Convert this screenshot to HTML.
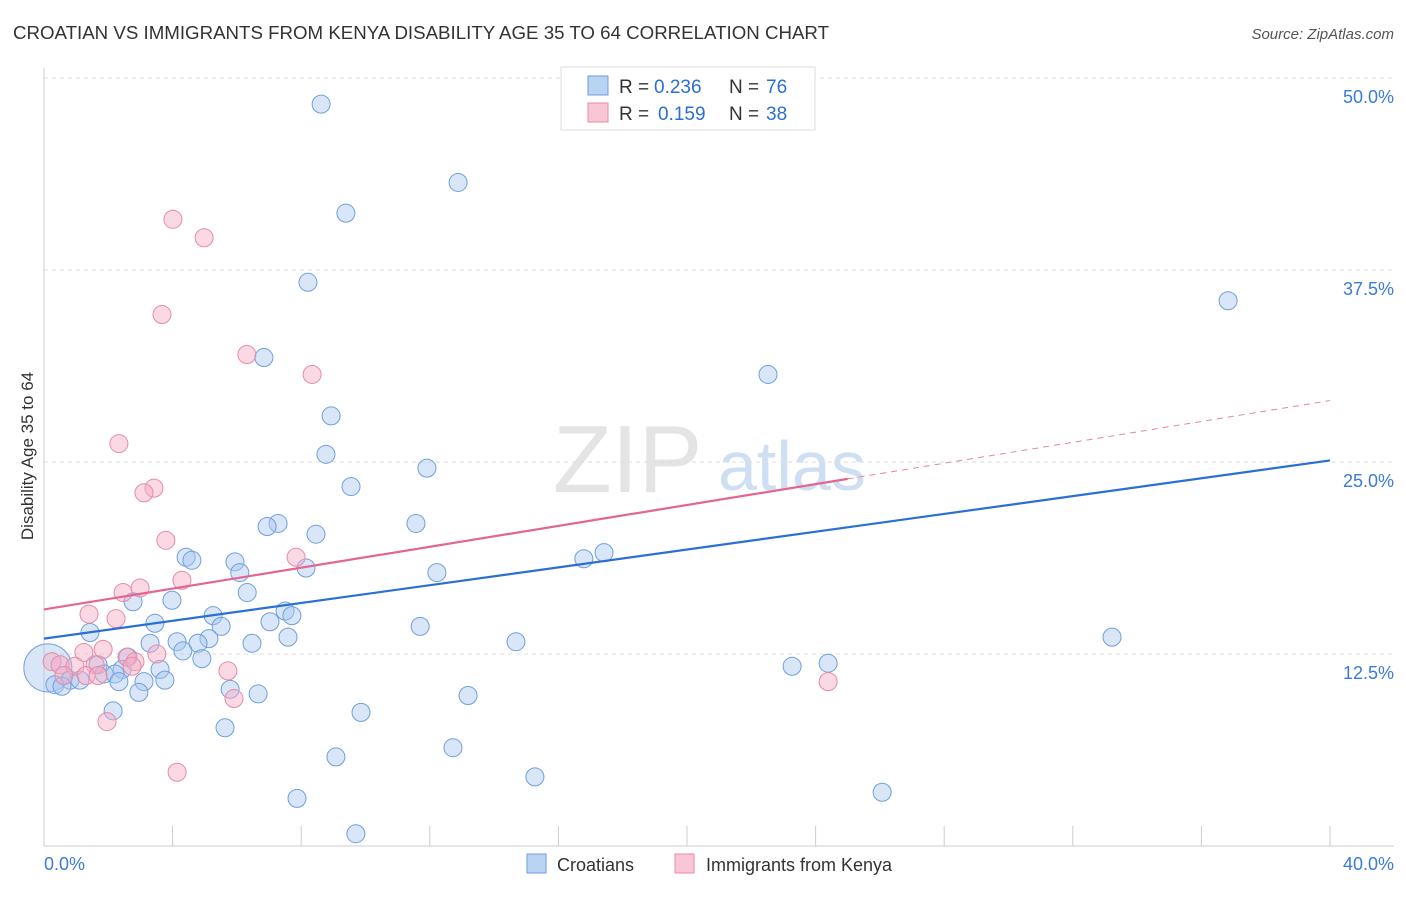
<!DOCTYPE html>
<html><head><meta charset="utf-8">
<style>
body{margin:0;background:#fff;font-family:"Liberation Sans",sans-serif;}
svg text{font-family:"Liberation Sans",sans-serif;}
</style></head>
<body>
<svg id="chart" width="1406" height="892" viewBox="0 0 1406 892" xmlns="http://www.w3.org/2000/svg">
<text x="13" y="39" font-size="18.7" fill="#333" textLength="816">CROATIAN VS IMMIGRANTS FROM KENYA DISABILITY AGE 35 TO 64 CORRELATION CHART</text>
<text x="1394" y="39" font-size="15" fill="#555" text-anchor="end" font-style="italic">Source: ZipAtlas.com</text>
<text transform="translate(33,456) rotate(-90)" font-size="17" fill="#333" text-anchor="middle">Disability Age 35 to 64</text>
<g>
<text x="553" y="492" font-size="96" fill="#e4e4e4" font-family="Liberation Serif,serif">ZIP</text>
<text x="718" y="490" font-size="70" fill="#cfdff3">atlas</text>
</g>
<g id="grid"></g>
<g id="axes"></g>
<g id="trends"></g>
<g id="points"></g>
<g>
<rect x="561" y="67" width="254" height="63" fill="#fff" stroke="#ddd"/>
<rect x="588" y="76" width="20" height="19" fill="#b9d3f3" stroke="#6f9fdc"/>
<text x="619" y="93" font-size="19" fill="#333">R =</text>
<text x="654" y="93" font-size="19" fill="#2a6fd4">0.236</text>
<text x="729" y="93" font-size="19" fill="#333">N =</text>
<text x="766" y="93" font-size="19" fill="#2a6fd4">76</text>
<rect x="588" y="103" width="20" height="19" fill="#f9c6d6" stroke="#e88aa8"/>
<text x="619" y="120" font-size="19" fill="#333">R =</text>
<text x="658" y="120" font-size="19" fill="#2a6fd4">0.159</text>
<text x="729" y="120" font-size="19" fill="#333">N =</text>
<text x="766" y="120" font-size="19" fill="#2a6fd4">38</text>
</g>
<g>
<rect x="527" y="854" width="19" height="19" fill="#b9d3f3" stroke="#6f9fdc"/>
<text x="557" y="871" font-size="18" fill="#333">Croatians</text>
<rect x="675" y="854" width="19" height="19" fill="#f9c6d6" stroke="#e88aa8"/>
<text x="706" y="871" font-size="18" fill="#333">Immigrants from Kenya</text>
</g>
</svg>
<script>
const yTicks=[12.5,25,37.5,50];
const yTickLabels=["12.5%","25.0%","37.5%","50.0%"];
const xTickLabels=["0.0%","40.0%"];
const blueX=[8.62,12.88,9.39,8.21,36.83,6.84,22.52,8.93,8.77,11.91,9.55,7.28,6.94,11.57,8.46,17.42,16.79,4.42,4.60,5.94,8.15,6.09,12.22,6.32,2.77,3.98,5.26,7.50,7.71,7.03,3.45,5.51,11.70,1.43,7.59,5.13,4.14,3.30,4.79,6.47,14.68,33.22,4.32,2.61,4.91,23.27,24.39,1.68,2.43,3.61,1.87,2.21,0.81,1.12,2.33,3.11,3.76,0.34,0.56,5.79,2.95,6.66,13.19,2.15,9.86,5.63,12.72,9.08,15.27,26.07,7.87,9.70];
const blueY=[48.3,43.2,41.2,36.7,35.5,31.8,30.7,28.0,25.5,24.6,23.4,21.0,20.8,21.0,20.3,19.1,18.7,18.8,18.6,18.5,18.1,17.8,17.8,16.5,15.9,16.0,15.0,15.3,15.0,14.6,14.5,14.3,14.3,13.9,13.6,13.5,13.3,13.2,13.2,13.2,13.3,13.6,12.7,12.3,12.2,11.7,11.9,11.8,11.5,11.5,11.2,11.2,10.8,10.8,10.7,10.7,10.8,10.5,10.4,10.2,10.0,9.9,9.8,8.8,8.7,7.7,6.4,5.8,4.5,3.5,3.1,0.8];
const pinkX=[4.01,4.98,3.67,6.31,8.34,2.33,3.42,3.11,3.79,7.84,4.29,2.99,2.46,1.40,2.24,1.24,1.84,3.51,2.58,2.83,0.25,0.50,0.96,1.59,2.74,5.72,0.62,1.31,1.68,24.39,5.91,1.96,4.14];
const pinkY=[40.8,39.6,34.6,32.0,30.7,26.2,23.3,23.0,19.9,18.8,17.3,16.8,16.5,15.1,14.8,12.6,12.8,12.5,12.3,12.0,12.0,11.8,11.7,11.8,11.7,11.4,11.1,11.1,11.1,10.7,9.6,8.1,4.8];
const bigX=[0.12], bigY=[11.6];
const blueTrend=[13.5,25.1];
const pinkTrend=[15.4,29.0];
const pinkSolidEnd=25;

const NS="http://www.w3.org/2000/svg";
const sx=v=>44+v/40*1286;
const sy=v=>846-v/12.5*192;
function mk(tag,attrs,parent){const e=document.createElementNS(NS,tag);for(const k in attrs)e.setAttribute(k,attrs[k]);parent.appendChild(e);return e;}
const grid=document.getElementById('grid'),axes=document.getElementById('axes'),tr=document.getElementById('trends'),pts=document.getElementById('points');
yTicks.forEach((t,i)=>{
  const l=mk('line',{x1:44,x2:1394,y1:sy(t),y2:sy(t),stroke:'#ddd','stroke-dasharray':'4,4'},grid);
  
  
  const tx=mk('text',{x:1394,y:sy(t)+25,'font-size':18,fill:'#3b7ad8','text-anchor':'end'},axes);
  tx.textContent=yTickLabels[i];
  
  
});
mk('line',{x1:44,x2:44,y1:68,y2:846,stroke:'#ccc'},axes);
mk('line',{x1:44,x2:1394,y1:846,y2:846,stroke:'#ccc'},axes);
for(let i=0;i<=10;i++){mk('line',{x1:sx(i*4),x2:sx(i*4),y1:826,y2:846,stroke:'#ccc'},axes);}
const xl0=mk('text',{x:44,y:870,'font-size':18,fill:'#3b7ad8'},axes);xl0.textContent=xTickLabels[0];


const xl1=mk('text',{x:1394,y:870,'font-size':18,fill:'#3b7ad8','text-anchor':'end'},axes);xl1.textContent=xTickLabels[1];


const pv=x=>pinkTrend[0]+(pinkTrend[1]-pinkTrend[0])*x/40;
const pd=mk('line',{x1:sx(pinkSolidEnd),y1:sy(pv(pinkSolidEnd)),x2:sx(40),y2:sy(pinkTrend[1]),stroke:'#e9839f','stroke-width':1,'stroke-dasharray':'6,5'},tr);


const big=mk('circle',{cx:sx(bigX[0]),cy:sy(bigY[0]),r:24,fill:'rgba(168,200,240,0.45)',stroke:'#6f9fdc'},pts);


blueX.forEach((x,i)=>{const c=mk('circle',{cx:sx(x),cy:sy(blueY[i]),r:9,fill:'rgba(168,200,240,0.45)',stroke:'#6f9fdc','stroke-width':1},pts);

});
pinkX.forEach((x,i)=>{const c=mk('circle',{cx:sx(x),cy:sy(pinkY[i]),r:9,fill:'rgba(245,170,195,0.45)',stroke:'#e88aa8','stroke-width':1},pts);

});
const bl=mk('line',{x1:sx(0),y1:sy(blueTrend[0]),x2:sx(40),y2:sy(blueTrend[1]),stroke:'#2a6fd4','stroke-width':2.2},tr.parentNode);


const pl=mk('line',{x1:sx(0),y1:sy(pinkTrend[0]),x2:sx(pinkSolidEnd),y2:sy(pv(pinkSolidEnd)),stroke:'#e4668e','stroke-width':2.2},tr.parentNode);


</script>
</body></html>
